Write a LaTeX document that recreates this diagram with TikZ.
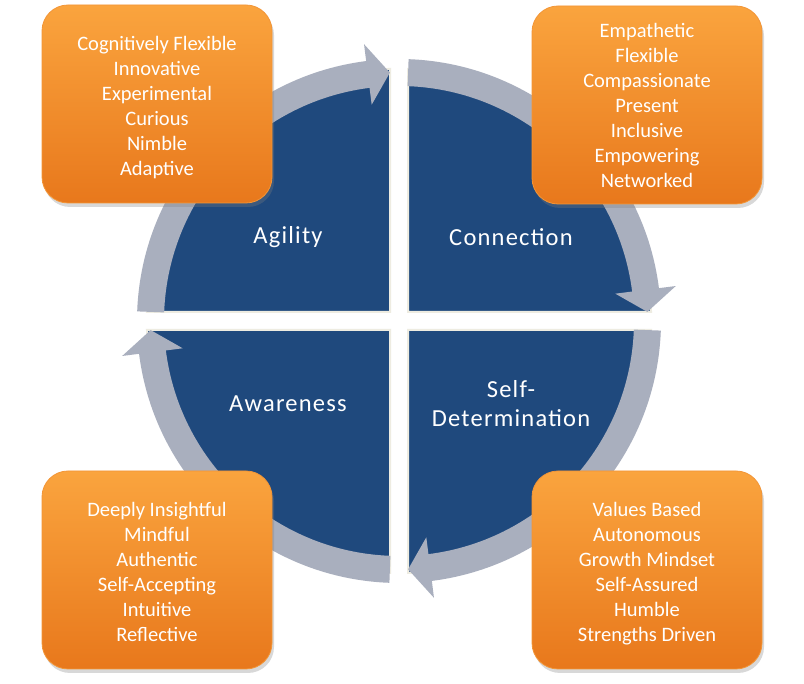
\documentclass[tikz,border=0pt]{standalone}
\usepackage{fontspec}
\setmainfont{Carlito}
\usetikzlibrary{shadows}
\definecolor{qblue}{HTML}{1F497D}
\definecolor{ringgray}{HTML}{A9AFBE}
\definecolor{cream}{HTML}{EEECE1}
\definecolor{otop}{HTML}{FAA43E}
\definecolor{obot}{HTML}{E8781C}
\definecolor{oedge}{HTML}{F39536}
\tikzset{
 quad/.style={fill=qblue, draw=cream, line width=2pt, line join=miter},
 ring/.style={fill=ringgray},
 qlabel/.style={text=white, font=\fontsize{24.5}{29}\selectfont\addfontfeatures{LetterSpace=5}, align=center},
 obox/.style={rectangle, rounded corners=26pt, minimum width=230pt, minimum height=198pt, inner sep=0pt,
   top color=otop, bottom color=obot, draw=oedge, line width=0.8pt,
   drop shadow={shadow xshift=2pt, shadow yshift=-4pt, opacity=0.3},
   text=white, font=\fontsize{20.5}{25}\selectfont, align=center}
}
\newcommand\ringseg[3]{%
 \fill[ring] (#1:262) arc[start angle=#1, end angle=#2, radius=262] -- (#2:279) -- (#3:248.5) -- (#2:218) -- (#2:235) arc[start angle=#2, end angle=#1, radius=235] -- cycle;}
\begin{document}
\begin{tikzpicture}[x=1pt,y=1pt]
\useasboundingbox (0,0) rectangle (804,684);
\fill[white] (0,0) rectangle (804,684);
\begin{scope}[shift={(399,363)}]
 \draw[quad] (-9,9) -- ++(180:243) arc[start angle=180,end angle=90,radius=243] -- cycle;
 \draw[quad] (9,9) -- ++(0:243) arc[start angle=0,end angle=90,radius=243] -- cycle;
 \draw[quad] (9,-9) -- ++(0:243) arc[start angle=0,end angle=-90,radius=243] -- cycle;
 \draw[quad] (-9,-9) -- ++(180:243) arc[start angle=180,end angle=270,radius=243] -- cycle;
 \ringseg{177.9}{97.2}{92.1}
 \ringseg{87.9}{7.2}{2.1}
 \ringseg{-2.1}{-82.8}{-87.9}
 \ringseg{-92.1}{-172.8}{-177.9}
\end{scope}
\node[qlabel] (agility) at (288,447) {Agility};
\node[qlabel] (connection) at (511,447) {Connection};
\node[qlabel] (awareness) at (288,280) {Awareness};
\node[qlabel] (selfdet) at (511,280) {Self-\\Determination};
\node[obox] (tl) at (157,580) {};
\node[text=white, font=\fontsize{20.5}{25}\selectfont, align=center] (tltext) at (157,576) {Cognitively Flexible\\Innovative\\Experimental\\Curious\\Nimble\\Adaptive};
\node[obox] (tr) at (647,579) {Empathetic\\Flexible\\Compassionate\\Present\\Inclusive\\Empowering\\Networked};
\node[obox] (bl) at (157,114) {};
\node[text=white, font=\fontsize{20.5}{25}\selectfont, align=center] (bltext) at (157,112) {Deeply Insightful\\Mindful\\Authentic\\Self-Accepting\\Intuitive\\Reflective};
\node[obox] (br) at (647,114) {};
\node[text=white, font=\fontsize{20.5}{25}\selectfont, align=center] (brtext) at (647,110) {Values Based\\Autonomous\\Growth Mindset\\Self-Assured\\Humble\\Strengths Driven};
\end{tikzpicture}
\end{document}
